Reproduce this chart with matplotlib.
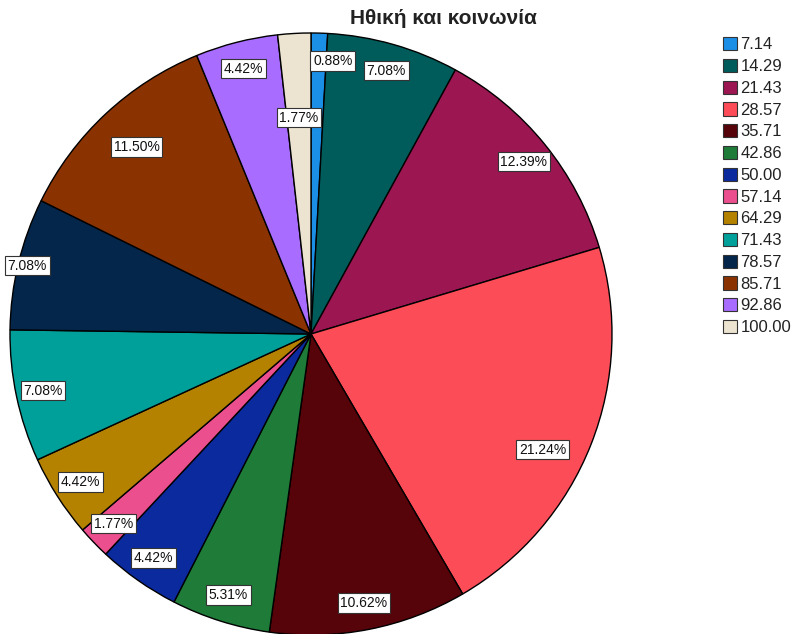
import numpy as np
import matplotlib
matplotlib.use("Agg")
import matplotlib.pyplot as plt
from matplotlib.patches import Patch

title = "Ηθική και κοινωνία"
categories = ["7.14", "14.29", "21.43", "28.57", "35.71", "42.86", "50.00",
              "57.14", "64.29", "71.43", "78.57", "85.71", "92.86", "100.00"]
counts = [1, 8, 14, 24, 12, 6, 5, 2, 5, 8, 8, 13, 5, 2]
pct_labels = ["0.88%", "7.08%", "12.39%", "21.24%", "10.62%", "5.31%", "4.42%",
              "1.77%", "4.42%", "7.08%", "7.08%", "11.50%", "4.42%", "1.77%"]
colors = ["#1b8fe6", "#005c5b", "#9c1652", "#fb4c58", "#560309", "#1e7b38",
          "#0a2a9e", "#ec4f8d", "#b58200", "#00a09a", "#03264a", "#8a3300",
          "#a86cff", "#ece4d0"]

plt.rcParams['font.family'] = ['Liberation Sans', 'DejaVu Sans']

W, H = 795, 634
fig = plt.figure(figsize=(W / 100, H / 100), dpi=100)
cx, cy, r = 311, 334, 301
ax = fig.add_axes([(cx - r) / W, (H - cy - r) / H, 2 * r / W, 2 * r / H])

wedges, _ = ax.pie(counts, colors=colors, startangle=90, counterclock=False,
                   wedgeprops=dict(edgecolor="black", linewidth=1.0))
ax.set_aspect("equal")
ax.set_xlim(-1.0, 1.0)
ax.set_ylim(-1.0, 1.0)

# label placement (radius fraction, clockwise angle nudge in degrees)
label_r = [0.91] * len(counts)
angle_shift = [0.0] * len(counts)
angle_shift[0] = -3.0
angle_shift[3] = -5.0
label_r[3] = 0.86
label_r[-1] = 0.72
label_r[10] = 0.97
label_r[11] = 0.85
for w, lab, lr, sh in zip(wedges, pct_labels, label_r, angle_shift):
    mid = np.deg2rad((w.theta1 + w.theta2) / 2 + sh)
    x, y = lr * np.cos(mid), lr * np.sin(mid)
    ax.text(x, y, lab, ha="center", va="center", fontsize=10, color="#111111",
            bbox=dict(boxstyle="square,pad=0.2", fc="white", ec="#333333", lw=0.8))

fig.text(443 / W, 1 - 18 / H, title, ha="center", va="center",
         fontsize=15, fontweight="bold", color="#222222")

handles = [Patch(facecolor=c, edgecolor="#333333", linewidth=0.8) for c in colors]
fig.legend(handles, categories, loc="upper left", bbox_to_anchor=(723 / W, 1 - 37 / H),
           frameon=False, fontsize=12, handlelength=0.85, handleheight=0.85,
           handletextpad=0.2, labelspacing=0.38, borderpad=0, borderaxespad=0,
           labelcolor="#222222")

fig.savefig("out.png", dpi=100)
